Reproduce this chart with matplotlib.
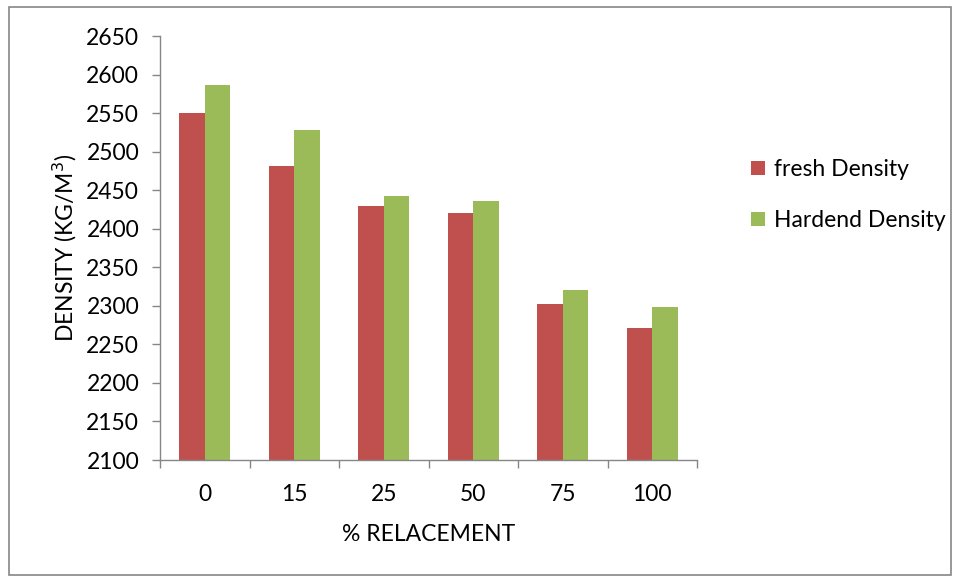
import matplotlib.pyplot as plt
import numpy as np
from matplotlib.patches import Rectangle

plt.rcParams['font.family'] = ['Lato', 'DejaVu Sans']

replacement = ['0', '15', '25', '50', '75', '100']
fresh_density = [2550, 2482, 2430, 2420, 2302, 2271]
hardened_density = [2587, 2528, 2442, 2436, 2320, 2299]

fig = plt.figure(figsize=(9.58, 5.79), dpi=100)
ax = fig.add_axes([160 / 958, 1 - 460 / 579, (697 - 160) / 958, (460 - 36) / 579])

x = np.arange(len(replacement))
w = 0.285
ax.bar(x - w / 2, fresh_density, w, color='#C0504D', label='fresh Density')
ax.bar(x + w / 2, hardened_density, w, color='#9BBB59', label='Hardend Density')

ax.set_xlim(-0.5, len(replacement) - 0.5)
ax.set_ylim(2100, 2650)
ax.set_yticks(np.arange(2100, 2651, 50))
ax.set_xticks(x)
ax.set_xticklabels(replacement)
ax.set_xticks(np.arange(-0.5, len(replacement)), minor=True)
ax.tick_params(axis='x', which='major', length=0, labelsize=16.5, pad=17)
ax.tick_params(axis='x', which='minor', length=6, color='#868686', width=1)
ax.tick_params(axis='y', length=6, color='#868686', width=1, labelsize=16.5, pad=9)

for s in ['top', 'right']:
    ax.spines[s].set_visible(False)
for s in ['left', 'bottom']:
    ax.spines[s].set_color('#868686')
    ax.spines[s].set_linewidth(1)

ax.set_xlabel('% RELACEMENT', fontsize=16.5, labelpad=14)
ax.set_ylabel('DENSITY (KG/M$^3$)', fontsize=16.5, labelpad=5)

ax.legend(loc='center left', bbox_to_anchor=(1.062, 0.625), frameon=False,
          fontsize=16.5, handlelength=0.6, handleheight=0.6, handletextpad=0.4,
          labelspacing=1.3)

# outer chart border
fig.patches.append(Rectangle((9 / 958, 4 / 579), 942 / 958, 568 / 579,
                             transform=fig.transFigure, fill=False,
                             edgecolor='#868686', linewidth=1.2))

fig.savefig('out.png', dpi=100)
